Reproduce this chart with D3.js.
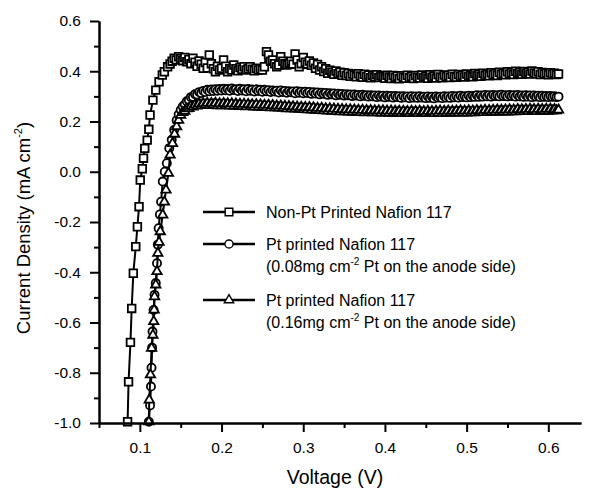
<!DOCTYPE html>
<html>
<head>
<meta charset="utf-8">
<script src="https://cdn.jsdelivr.net/npm/d3@7"></script>
<style>
  body { margin: 0; background: #fff; }
  text { font-family: "Liberation Sans", Arial, sans-serif; fill: #000; }
</style>
</head>
<body>
<div id="chart"></div>
<script>
// steep part of each curve
const sqRiseV = [0.0850, 0.0862, 0.0885, 0.0900, 0.0920, 0.0950, 0.0970, 0.0990, 0.1005, 0.1030, 0.1045, 0.1060, 0.1090, 0.1110, 0.1125, 0.1160, 0.1195, 0.1235, 0.1275, 0.1300, 0.1340, 0.1370, 0.1395, 0.1420, 0.1445, 0.1475]
const sqRiseJ = [-0.995, -0.836, -0.679, -0.544, -0.404, -0.298, -0.219, -0.139, -0.033, 0.012, 0.054, 0.093, 0.126, 0.169, 0.226, 0.285, 0.325, 0.358, 0.385, 0.398, 0.418, 0.429, 0.440, 0.452, 0.445, 0.458]

const ciRiseV = [0.1110, 0.1125, 0.1136, 0.1143, 0.1150, 0.1155, 0.1168, 0.1180, 0.1195, 0.1210, 0.1220, 0.1230, 0.1245, 0.1260, 0.1280, 0.1305, 0.1330, 0.1360, 0.1390, 0.1420, 0.1450, 0.1475]
const ciRiseJ = [-0.995, -0.930, -0.855, -0.780, -0.700, -0.636, -0.550, -0.490, -0.443, -0.364, -0.290, -0.225, -0.170, -0.119, -0.039, 0.000, 0.034, 0.094, 0.127, 0.166, 0.205, 0.228]

const trRiseV = [0.1110, 0.1115, 0.1130, 0.1144, 0.1160, 0.1170, 0.1175, 0.1180, 0.1195, 0.1210, 0.1220, 0.1235, 0.1250, 0.1280, 0.1300, 0.1320, 0.1350, 0.1370, 0.1400, 0.1425, 0.1450, 0.1475]
const trRiseJ = [-0.995, -0.908, -0.808, -0.702, -0.650, -0.596, -0.550, -0.497, -0.450, -0.397, -0.324, -0.280, -0.238, -0.172, -0.120, -0.072, -0.006, 0.067, 0.113, 0.150, 0.180, 0.205]

// the flat part shares one voltage sweep
const plateauV = [
  0.15, 0.1525, 0.155, 0.1575, 0.16, 0.1625, 0.165, 0.1675, 0.17, 0.1725, 0.175, 0.1775, 0.18, 0.1825, 0.185, 0.1875, 0.19, 0.1925, 0.195, 0.1975,
  0.2, 0.2025, 0.205, 0.2075, 0.21, 0.2125, 0.215, 0.2175, 0.22, 0.2225, 0.225, 0.2275, 0.23, 0.2325, 0.235, 0.2375, 0.24, 0.2425, 0.245, 0.2475,
  0.25, 0.2525, 0.255, 0.2575, 0.26, 0.2625, 0.265, 0.2675, 0.27, 0.2725, 0.275, 0.2775, 0.28, 0.2825, 0.285, 0.2875, 0.29, 0.2925, 0.295, 0.2975,
  0.3, 0.3025, 0.305, 0.3075, 0.31, 0.3125, 0.315, 0.3175, 0.32, 0.3225, 0.325, 0.3275, 0.33, 0.3325, 0.335, 0.3375, 0.34, 0.3425, 0.345, 0.3475,
  0.35, 0.3525, 0.355, 0.3575, 0.36, 0.3625, 0.365, 0.3675, 0.37, 0.3725, 0.375, 0.3775, 0.38, 0.3825, 0.385, 0.3875, 0.39, 0.3925, 0.395, 0.3975,
  0.4, 0.4025, 0.405, 0.4075, 0.41, 0.4125, 0.415, 0.4175, 0.42, 0.4225, 0.425, 0.4275, 0.43, 0.4325, 0.435, 0.4375, 0.44, 0.4425, 0.445, 0.4475,
  0.45, 0.4525, 0.455, 0.4575, 0.46, 0.4625, 0.465, 0.4675, 0.47, 0.4725, 0.475, 0.4775, 0.48, 0.4825, 0.485, 0.4875, 0.49, 0.4925, 0.495, 0.4975,
  0.5, 0.5025, 0.505, 0.5075, 0.51, 0.5125, 0.515, 0.5175, 0.52, 0.5225, 0.525, 0.5275, 0.53, 0.5325, 0.535, 0.5375, 0.54, 0.5425, 0.545, 0.5475,
  0.55, 0.5525, 0.555, 0.5575, 0.56, 0.5625, 0.565, 0.5675, 0.57, 0.5725, 0.575, 0.5775, 0.58, 0.5825, 0.585, 0.5875, 0.59, 0.5925, 0.595, 0.5975,
  0.6, 0.6025, 0.605, 0.6075, 0.61, 0.6125
]

// the readings scatter a few mV around the trend, which is what makes the bands look solid
const sqPlateau = [
  0.450, 0.442, 0.455, 0.438, 0.447, 0.430, 0.452, 0.436, 0.420, 0.441, 0.428, 0.412, 0.435, 0.413, 0.465, 0.430, 0.410, 0.398, 0.420, 0.405,
  0.412, 0.445, 0.420, 0.398, 0.410, 0.405, 0.425, 0.410, 0.402, 0.415, 0.408, 0.418, 0.405, 0.410, 0.418, 0.408, 0.402, 0.412, 0.405, 0.410,
  0.405, 0.418, 0.478, 0.465, 0.440, 0.445, 0.430, 0.418, 0.425, 0.458, 0.440, 0.430, 0.425, 0.432, 0.440, 0.428, 0.469, 0.445, 0.418, 0.430,
  0.455, 0.436, 0.428, 0.441, 0.424, 0.433, 0.412, 0.427, 0.405, 0.418, 0.399, 0.410, 0.392, 0.404, 0.396, 0.388, 0.401, 0.390, 0.396, 0.384,
  0.394, 0.383, 0.391, 0.380, 0.389, 0.385, 0.378, 0.390, 0.381, 0.376, 0.388, 0.379, 0.385, 0.374, 0.383, 0.377, 0.386, 0.375, 0.382, 0.378,
  0.372, 0.384, 0.377, 0.371, 0.383, 0.375, 0.380, 0.370, 0.382, 0.376, 0.372, 0.384, 0.374, 0.379, 0.371, 0.383, 0.376, 0.373, 0.385, 0.375,
  0.379, 0.372, 0.386, 0.376, 0.381, 0.373, 0.387, 0.377, 0.374, 0.385, 0.378, 0.383, 0.375, 0.388, 0.379, 0.376, 0.387, 0.380, 0.384, 0.377,
  0.389, 0.380, 0.385, 0.378, 0.391, 0.383, 0.387, 0.380, 0.392, 0.384, 0.389, 0.382, 0.394, 0.386, 0.390, 0.383, 0.396, 0.388, 0.392, 0.386,
  0.398, 0.389, 0.394, 0.387, 0.400, 0.391, 0.396, 0.388, 0.399, 0.392, 0.397, 0.389, 0.401, 0.393, 0.390, 0.398, 0.387, 0.395, 0.389, 0.393,
  0.386, 0.394, 0.388, 0.392, 0.387, 0.389
]

const ciPlateau = [
  0.246, 0.260, 0.268, 0.281, 0.285, 0.297, 0.298, 0.309, 0.307, 0.317, 0.313, 0.322, 0.317, 0.326, 0.320, 0.327, 0.321, 0.328, 0.322, 0.329,
  0.323, 0.330, 0.324, 0.329, 0.322, 0.331, 0.325, 0.328, 0.321, 0.330, 0.323, 0.328, 0.320, 0.329, 0.322, 0.327, 0.319, 0.328, 0.321, 0.326,
  0.318, 0.326, 0.320, 0.325, 0.317, 0.324, 0.319, 0.323, 0.315, 0.324, 0.317, 0.322, 0.314, 0.321, 0.316, 0.320, 0.312, 0.321, 0.314, 0.319,
  0.312, 0.319, 0.313, 0.318, 0.310, 0.317, 0.311, 0.316, 0.308, 0.315, 0.310, 0.314, 0.306, 0.313, 0.308, 0.312, 0.304, 0.311, 0.306, 0.310,
  0.303, 0.309, 0.304, 0.308, 0.301, 0.308, 0.303, 0.306, 0.300, 0.307, 0.302, 0.305, 0.299, 0.305, 0.300, 0.304, 0.297, 0.304, 0.299, 0.303,
  0.296, 0.303, 0.298, 0.302, 0.295, 0.302, 0.297, 0.301, 0.294, 0.301, 0.296, 0.300, 0.293, 0.301, 0.295, 0.300, 0.294, 0.301, 0.295, 0.299,
  0.293, 0.300, 0.294, 0.299, 0.292, 0.300, 0.295, 0.299, 0.293, 0.301, 0.295, 0.300, 0.294, 0.302, 0.296, 0.301, 0.295, 0.303, 0.297, 0.301,
  0.296, 0.303, 0.297, 0.302, 0.298, 0.305, 0.298, 0.304, 0.299, 0.306, 0.300, 0.305, 0.299, 0.306, 0.301, 0.305, 0.300, 0.307, 0.301, 0.305,
  0.300, 0.306, 0.301, 0.305, 0.299, 0.306, 0.300, 0.304, 0.298, 0.305, 0.299, 0.304, 0.297, 0.304, 0.299, 0.303, 0.297, 0.303, 0.298, 0.302,
  0.297, 0.302, 0.298, 0.301, 0.297, 0.299
]

const trPlateau = [
  0.225, 0.236, 0.241, 0.251, 0.252, 0.261, 0.258, 0.266, 0.262, 0.270, 0.264, 0.272, 0.265, 0.273, 0.264, 0.272, 0.265, 0.273, 0.263, 0.271,
  0.263, 0.272, 0.264, 0.271, 0.262, 0.271, 0.261, 0.270, 0.262, 0.269, 0.260, 0.269, 0.259, 0.268, 0.260, 0.267, 0.258, 0.267, 0.257, 0.266,
  0.257, 0.265, 0.256, 0.265, 0.255, 0.264, 0.255, 0.262, 0.254, 0.262, 0.253, 0.261, 0.251, 0.260, 0.251, 0.259, 0.250, 0.258, 0.249, 0.257,
  0.248, 0.256, 0.247, 0.256, 0.246, 0.255, 0.245, 0.253, 0.244, 0.253, 0.243, 0.251, 0.242, 0.251, 0.241, 0.250, 0.240, 0.249, 0.239, 0.248,
  0.239, 0.247, 0.238, 0.247, 0.237, 0.246, 0.237, 0.245, 0.236, 0.245, 0.235, 0.244, 0.236, 0.244, 0.235, 0.243, 0.235, 0.243, 0.234, 0.243,
  0.234, 0.242, 0.233, 0.242, 0.233, 0.241, 0.234, 0.241, 0.232, 0.241, 0.233, 0.240, 0.232, 0.241, 0.233, 0.240, 0.232, 0.241, 0.233, 0.240,
  0.232, 0.241, 0.233, 0.240, 0.232, 0.241, 0.233, 0.242, 0.232, 0.241, 0.234, 0.242, 0.233, 0.241, 0.234, 0.242, 0.234, 0.243, 0.234, 0.242,
  0.234, 0.243, 0.235, 0.242, 0.235, 0.244, 0.236, 0.243, 0.236, 0.245, 0.236, 0.244, 0.237, 0.245, 0.237, 0.246, 0.238, 0.245, 0.238, 0.246,
  0.238, 0.247, 0.239, 0.246, 0.239, 0.248, 0.240, 0.247, 0.240, 0.248, 0.240, 0.249, 0.241, 0.248, 0.240, 0.249, 0.241, 0.248, 0.241, 0.249,
  0.241, 0.249, 0.242, 0.248, 0.243, 0.246
]

const xTicks = [0.1, 0.2, 0.3, 0.4, 0.5, 0.6]
const xMinorTicks = [0.05, 0.15, 0.25, 0.35, 0.45, 0.55]
const yTicks = [-1.0, -0.8, -0.6, -0.4, -0.2, 0.0, 0.2, 0.4, 0.6]
const yMinorTicks = [-0.9, -0.7, -0.5, -0.3, -0.1, 0.1, 0.3, 0.5]

const legendLabels = [
  ['Non-Pt Printed Nafion 117'],
  ['Pt printed Nafion 117', '(0.08mg cm', '-2', ' Pt on the anode side)'],
  ['Pt printed Nafion 117', '(0.16mg cm', '-2', ' Pt on the anode side)']
]

const margin = { top: 21, right: 12, bottom: 66, left: 99 }
const width = 593 - margin.left - margin.right
const height = 489 - margin.top - margin.bottom

const svg = d3.select('#chart').append('svg')
    .attr('width', width + margin.left + margin.right)
    .attr('height', height + margin.top + margin.bottom)
    .append('g')
    .attr('transform', 'translate(' + margin.left + ',' + margin.top + ')')

const xPositionScale = d3.scaleLinear()
  .domain([0.05, 0.64])
  .range([0, width])

const yPositionScale = d3.scaleLinear()
  .domain([-1.0, 0.6])
  .range([height, 0])

// glue the steep bit onto the flat bit for each curve
function makePoints (riseV, riseJ, flatJ) {
  return riseV.concat(plateauV).map((v, i) => ({
    v: v,
    j: i < riseV.length ? riseJ[i] : flatJ[i - riseV.length]
  }))
}

const series = [
  { name: 'square', symbol: d3.symbolSquare, size: 58, points: makePoints(sqRiseV, sqRiseJ, sqPlateau) },
  { name: 'circle', symbol: d3.symbolCircle, size: 52, points: makePoints(ciRiseV, ciRiseJ, ciPlateau) },
  { name: 'triangle', symbol: d3.symbolTriangle, size: 38, points: makePoints(trRiseV, trRiseJ, trPlateau) }
]

const line = d3.line()
  .x(d => xPositionScale(d.v))
  .y(d => yPositionScale(d.j))

series.forEach(s => {
  const g = svg.append('g').attr('class', 'series-' + s.name)

  g.append('path')
    .datum(s.points)
    .attr('d', line)
    .attr('fill', 'none')
    .attr('stroke', 'black')
    .attr('stroke-width', 2)

  g.selectAll('path.marker')
    .data(s.points)
    .join('path')
    .attr('class', 'marker')
    .attr('d', d3.symbol().type(s.symbol).size(s.size))
    .attr('transform', d => 'translate(' + xPositionScale(d.v) + ',' + yPositionScale(d.j) + ')')
    .attr('fill', 'white')
    .attr('stroke', 'black')
    .attr('stroke-width', 1.8)
})

// axes: major ticks with labels, minor ticks without
const fmt = d => d.toFixed(1)

const yAxis = d3.axisLeft(yPositionScale)
  .tickValues(yTicks).tickFormat(fmt).tickSize(9).tickSizeOuter(0).tickPadding(9)
svg.append('g')
  .attr('class', 'axis y-axis')
  .call(yAxis)

svg.append('g')
  .attr('class', 'axis y-minor')
  .call(d3.axisLeft(yPositionScale).tickValues(yMinorTicks).tickFormat('').tickSize(5).tickSizeOuter(0))

const xAxis = d3.axisBottom(xPositionScale)
  .tickValues(xTicks).tickFormat(fmt).tickSize(9).tickSizeOuter(0).tickPadding(10)
svg.append('g')
  .attr('class', 'axis x-axis')
  .attr('transform', 'translate(0,' + height + ')')
  .call(xAxis)

svg.append('g')
  .attr('class', 'axis x-minor')
  .attr('transform', 'translate(0,' + height + ')')
  .call(d3.axisBottom(xPositionScale).tickValues(xMinorTicks).tickFormat('').tickSize(5).tickSizeOuter(0))

svg.selectAll('.axis path, .axis line')
  .attr('stroke', 'black')
  .attr('stroke-width', 2)
svg.selectAll('.axis text')
  .attr('font-size', 15.5)
  .attr('font-family', '"Liberation Sans", Arial, sans-serif')
  .attr('fill', 'black')

// axis titles
svg.append('text')
  .text('Voltage (V)')
  .attr('x', 236)
  .attr('y', height + 61)
  .attr('text-anchor', 'middle')
  .attr('font-size', 19.5)

const yTitle = svg.append('text')
  .attr('transform', 'rotate(-90)')
  .attr('x', -207)
  .attr('y', -69)
  .attr('text-anchor', 'middle')
  .attr('font-size', 18.5)
yTitle.append('tspan').text('Current Density (mA cm')
yTitle.append('tspan').text('-2').attr('font-size', 11).attr('dy', -8)
yTitle.append('tspan').text(')').attr('dy', 8)

// legend
const legend = svg.append('g')
  .attr('transform', 'translate(104,191)')

const legendRows = [0, 32, 88]

legend.selectAll('line')
  .data(series)
  .join('line')
  .attr('x1', 0)
  .attr('x2', 52)
  .attr('y1', (d, i) => legendRows[i])
  .attr('y2', (d, i) => legendRows[i])
  .attr('stroke', 'black')
  .attr('stroke-width', 2.4)

legend.selectAll('path')
  .data(series)
  .join('path')
  .attr('d', d => d3.symbol().type(d.symbol).size(d.size)())
  .attr('transform', (d, i) => 'translate(26,' + legendRows[i] + ')')
  .attr('fill', 'white')
  .attr('stroke', 'black')
  .attr('stroke-width', 1.4)

legendLabels.forEach((lab, i) => {
  legend.append('text')
    .text(lab[0])
    .attr('x', 63)
    .attr('y', legendRows[i] + 6)
    .attr('font-size', 16)
  if (lab.length > 1) {
    const t = legend.append('text')
      .attr('x', 63)
      .attr('y', legendRows[i] + 28)
      .attr('font-size', 16)
    t.append('tspan').text(lab[1])
    t.append('tspan').text(lab[2]).attr('font-size', 10).attr('dy', -7)
    t.append('tspan').text(lab[3]).attr('dy', 7)
  }
})
</script>
</body>
</html>
